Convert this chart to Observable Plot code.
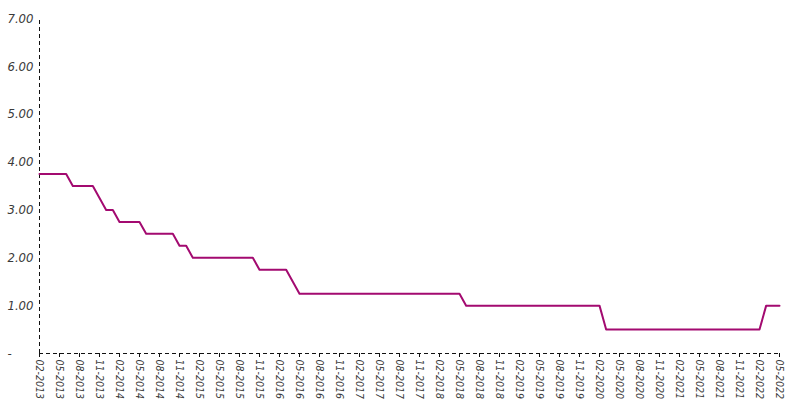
<!DOCTYPE html>
<html>
<head>
<meta charset="utf-8">
<script src="https://cdn.jsdelivr.net/npm/d3@7"></script>
<script src="https://cdn.jsdelivr.net/npm/@observablehq/plot@0.6"></script>
<style>
  html, body { margin: 0; padding: 0; background: #fff; overflow: hidden; }
</style>
</head>
<body>
<div id="chart"></div>
<script>
const months = [
  "02-2013","03-2013","04-2013","05-2013","06-2013","07-2013","08-2013","09-2013","10-2013","11-2013","12-2013",
  "01-2014","02-2014","03-2014","04-2014","05-2014","06-2014","07-2014","08-2014","09-2014","10-2014","11-2014","12-2014",
  "01-2015","02-2015","03-2015","04-2015","05-2015","06-2015","07-2015","08-2015","09-2015","10-2015","11-2015","12-2015",
  "01-2016","02-2016","03-2016","04-2016","05-2016","06-2016","07-2016","08-2016","09-2016","10-2016","11-2016","12-2016",
  "01-2017","02-2017","03-2017","04-2017","05-2017","06-2017","07-2017","08-2017","09-2017","10-2017","11-2017","12-2017",
  "01-2018","02-2018","03-2018","04-2018","05-2018","06-2018","07-2018","08-2018","09-2018","10-2018","11-2018","12-2018",
  "01-2019","02-2019","03-2019","04-2019","05-2019","06-2019","07-2019","08-2019","09-2019","10-2019","11-2019","12-2019",
  "01-2020","02-2020","03-2020","04-2020","05-2020","06-2020","07-2020","08-2020","09-2020","10-2020","11-2020","12-2020",
  "01-2021","02-2021","03-2021","04-2021","05-2021","06-2021","07-2021","08-2021","09-2021","10-2021","11-2021","12-2021",
  "01-2022","02-2022","03-2022","04-2022","05-2022"
];

const rates = [
  3.75,3.75,3.75,3.75,3.75,3.50,3.50,3.50,3.50,3.25,3.00,
  3.00,2.75,2.75,2.75,2.75,2.50,2.50,2.50,2.50,2.50,2.25,2.25,
  2.00,2.00,2.00,2.00,2.00,2.00,2.00,2.00,2.00,2.00,1.75,1.75,
  1.75,1.75,1.75,1.50,1.25,1.25,1.25,1.25,1.25,1.25,1.25,1.25,
  1.25,1.25,1.25,1.25,1.25,1.25,1.25,1.25,1.25,1.25,1.25,1.25,
  1.25,1.25,1.25,1.25,1.25,1.00,1.00,1.00,1.00,1.00,1.00,1.00,
  1.00,1.00,1.00,1.00,1.00,1.00,1.00,1.00,1.00,1.00,1.00,1.00,
  1.00,1.00,0.50,0.50,0.50,0.50,0.50,0.50,0.50,0.50,0.50,0.50,
  0.50,0.50,0.50,0.50,0.50,0.50,0.50,0.50,0.50,0.50,0.50,0.50,
  0.50,0.50,1.00,1.00,1.00
];

const xTicks = [
  "02-2013","05-2013","08-2013","11-2013",
  "02-2014","05-2014","08-2014","11-2014",
  "02-2015","05-2015","08-2015","11-2015",
  "02-2016","05-2016","08-2016","11-2016",
  "02-2017","05-2017","08-2017","11-2017",
  "02-2018","05-2018","08-2018","11-2018",
  "02-2019","05-2019","08-2019","11-2019",
  "02-2020","05-2020","08-2020","11-2020",
  "02-2021","05-2021","08-2021","11-2021",
  "02-2022","05-2022"
];

const yTicks = [1, 2, 3, 4, 5, 6, 7];
const yDomain = [0, 7];

const data = months.map((m, i) => ({month: m, rate: rates[i]}));

const fontFamily = "'Liberation Sans Narrow', 'DejaVu Sans Condensed', 'Liberation Sans', sans-serif";

const chart = Plot.plot({
  width: 786,
  height: 404,
  marginTop: 18,
  marginBottom: 51,
  marginLeft: 39,
  marginRight: 7,
  style: {fontFamily, fontStyle: "italic", fontStretch: "condensed", color: "#3a3a3a", background: "#fff", overflow: "visible"},
  x: {type: "point", domain: months, padding: 0},
  y: {domain: yDomain},
  marks: [
    Plot.ruleX([months[0]], {y1: yDomain[0], y2: yDomain[1], stroke: "#111", strokeDasharray: "4,3", strokeWidth: 1}),
    Plot.ruleY([0], {stroke: "#111", strokeDasharray: "4,3", strokeWidth: 1}),
    Plot.axisY({ticks: yTicks, tickFormat: d => d.toFixed(2), tickSize: 0, tickPadding: 6, fontSize: 13, label: null}),
    Plot.text([0], {y: d => d, text: () => "-", frameAnchor: "left", dx: -32, fontSize: 13, fill: "#3a3a3a"}),
    Plot.axisX({ticks: xTicks, tickRotate: 90, tickSize: 4, tickPadding: 2, fontSize: 10.5, label: null, stroke: "#111"}),
    Plot.line(data, {x: "month", y: "rate", stroke: "#a30a70", strokeWidth: 2})
  ]
});

document.getElementById("chart").appendChild(chart);
</script>
</body>
</html>
